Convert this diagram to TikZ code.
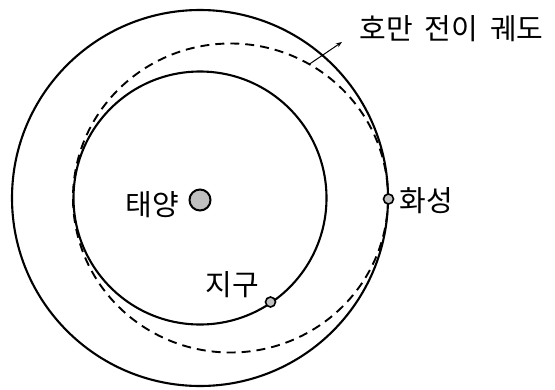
\documentclass[tikz,border=0pt]{standalone}
\usepackage{fontspec}
\newfontfamily\kr{Noto Sans CJK KR}
\usetikzlibrary{arrows.meta}
\definecolor{planet}{RGB}{192,192,192}
\begin{document}
\begin{tikzpicture}[x=1pt,y=-1pt,
  orbit/.style={line width=2.1pt},
  transfer/.style={line width=1.9pt, dash pattern=on 9pt off 6pt},
  body/.style={circle, draw, fill=planet, inner sep=0pt},
  lbl/.style={font=\kr\fontsize{29}{32}\selectfont, inner sep=0pt}]
\useasboundingbox (0,0) rectangle (555,389);
\fill[white] (0,0) rectangle (555,389);
\coordinate (O) at (200,198);
\coordinate (E) at (230.5,198);
% orbits
\draw[orbit] (O) circle[radius=188];
\draw[orbit] (O) circle[radius=126.5];
\draw[transfer] (E) ellipse[x radius=157.5, y radius=154.5];
% bodies
\node[body, line width=2pt, minimum size=21pt] (sun) at (200,200) {};
\node[body, line width=1.6pt, minimum size=10pt] (mars) at (388.5,199) {};
\node[body, line width=1.6pt, minimum size=10pt] (earth) at (270.5,302) {};
% labels
\node[lbl] (sunlbl) at (152.5,205) {태양};
\node[lbl] (marslbl) at (426,201) {화성};
\node[lbl] (earthlbl) at (232.5,285) {지구};
\node[lbl] (title) at (451.5,28.5) {호만\hspace{12pt}전이\hspace{12pt}궤도};
% pointer
\coordinate (h) at (309.3,64.2);
\coordinate (tip) at (342,42);
\draw[-{Stealth[length=6pt,width=4.5pt]}, line width=1pt] (h) -- (tip);
\end{tikzpicture}
\end{document}
